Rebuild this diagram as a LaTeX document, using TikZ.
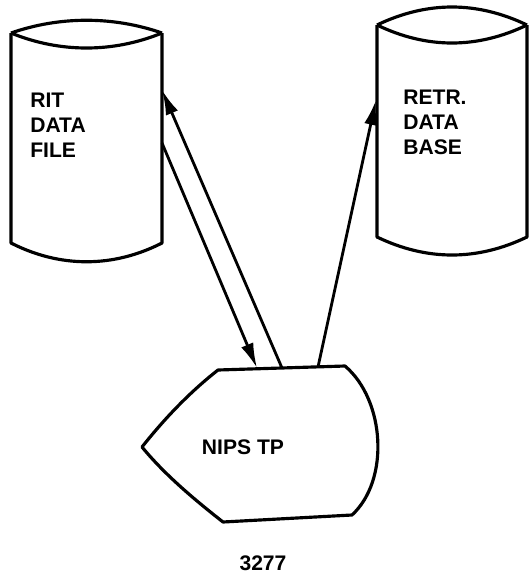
\documentclass[tikz,border=0pt]{standalone}
\usepackage{fontspec}
\setmainfont{Liberation Sans}
\usepackage{tikz}
\usetikzlibrary{positioning}
\usetikzlibrary{arrows.meta}

\tikzset{
  outline/.style={line width=1.8pt, line join=round},
  link/.style={line width=1.6pt, -{Latex[length=0.5cm,width=0.26cm]}},
  label/.style={font=\fontsize{12}{14.2}\selectfont\bfseries, align=left, inner sep=0pt}
}

\begin{document}
\begin{tikzpicture}[x=0.02cm,y=-0.02cm]
        \useasboundingbox (0,0) rectangle (529,576);
        \draw[outline] (11,33) -- (11,243) .. controls (60,268) and (113,268) .. (162,243) -- (162,33);
        \draw[outline] (11,33) .. controls (60,16) and (113,16) .. (162,33);
        \draw[outline] (11,33) .. controls (60,53) and (113,53) .. (162,33);
        \draw[outline] (377,25) -- (377,237) .. controls (427,261) and (477,261) .. (527,237) -- (527,25);
        \draw[outline] (377,25) .. controls (427,1) and (477,1) .. (527,25);
        \draw[outline] (377,25) .. controls (427,49) and (477,49) .. (527,25);
        \draw[outline] (218,370) -- (345,366) .. controls (385,400) and (390,480) .. (352,515) -- (223,522)
          .. controls (195,500) and (165,475) .. (142,447) .. controls (165,418) and (190,392) .. (218,370) -- cycle;
        \node[label, anchor=west] (rit) at (30,125) {RIT\\DATA\\FILE};
        \node[label, anchor=west] (retr) at (403,122) {RETR.\\DATA\\BASE};
        \node[label] (nips) at (243,447) {NIPS TP};
        \node[label] (num) at (263,563) {3277};
        \coordinate (ritin) at (162,90);
        \coordinate (ritout) at (162,143);
        \coordinate (retrin) at (376,100);
        \coordinate (nipsin) at (257,368);
        \coordinate (nipsout) at (282,368);
        \coordinate (nipsup) at (318,367);
        \draw[link] (ritout) -- (nipsin);
        \draw[link] (nipsout) -- (ritin);
        \draw[link] (nipsup) -- (retrin);
\end{tikzpicture}
\end{document}
